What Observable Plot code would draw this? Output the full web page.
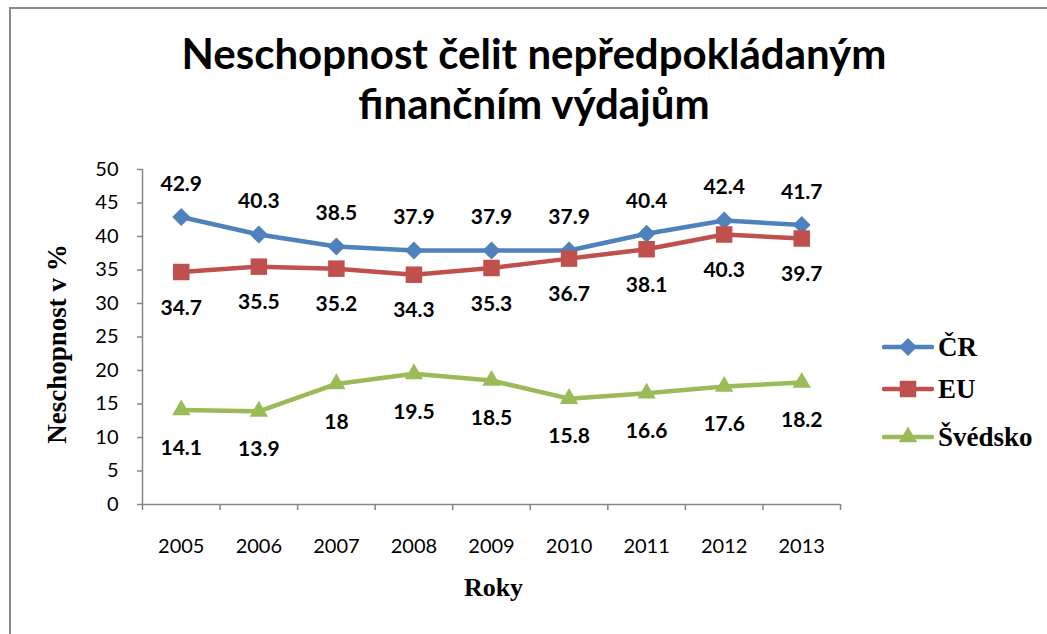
<!DOCTYPE html>
<html>
<head>
<meta charset="utf-8">
<script src="https://cdn.jsdelivr.net/npm/d3@7"></script>
<script src="https://cdn.jsdelivr.net/npm/@observablehq/plot@0.6"></script>
<style>
  body { margin: 0; background: #fff; }
  #wrap { position: relative; width: 1047px; height: 634px; overflow: hidden; background: #fff; }
  #frame { position: absolute; left: 9px; top: 7px; width: 1200px; height: 800px;
           border-left: 2px solid #8c8c8c; border-top: 2px solid #8c8c8c; }
  #title { position: absolute; left: 21px; top: 0; width: 1026px; height: 150px; box-sizing: border-box;
           padding-top: 28px; text-align: center; font-family: Lato, sans-serif; font-weight: bold;
           font-size: 42px; line-height: 50px; color: #000; }
  #chart { position: absolute; left: 0; top: 150px; }
  #legend { position: absolute; left: 882px; top: 0; font-family: "Liberation Serif", serif;
            font-weight: bold; font-size: 27px; color: #000; }
  .item { position: absolute; left: 0; display: flex; align-items: center; white-space: nowrap; height: 30px; }
  .item svg { margin-right: 4px; }
</style>
</head>
<body>
<div id="wrap">
  <div id="frame"></div>
  <div id="title">Neschopnost čelit nepředpokládaným<br>finančním výdajům</div>
  <div id="chart"></div>
  <div id="legend"></div>
</div>
<script>
// ---- data ----
const years = [2005, 2006, 2007, 2008, 2009, 2010, 2011, 2012, 2013];
const seriesNames = ["ČR", "EU", "Švédsko"];
const crValues = [42.9, 40.3, 38.5, 37.9, 37.9, 37.9, 40.4, 42.4, 41.7];
const euValues = [34.7, 35.5, 35.2, 34.3, 35.3, 36.7, 38.1, 40.3, 39.7];
const seValues = [14.1, 13.9, 18, 19.5, 18.5, 15.8, 16.6, 17.6, 18.2];
const yTicks = [0, 5, 10, 15, 20, 25, 30, 35, 40, 45, 50];

// ---- styles ----
const colors = {"ČR": "#4F81BD", "EU": "#C0504D", "Švédsko": "#9BBB59"};
const symbols = {"ČR": "diamond2", "EU": "square", "Švédsko": "triangle"};
const radii = {"ČR": 8.1, "EU": 9.3, "Švédsko": 6.8};
const labelDy = {"ČR": -33, "EU": 36, "Švédsko": 38};
const axisGray = "#868686";

const valuesBySeries = {"ČR": crValues, "EU": euValues, "Švédsko": seValues};
const rows = seriesNames.flatMap(s => years.map((y, i) => ({series: s, year: y, value: valuesBySeries[s][i]})));
const boundaries = d3.range(years[0] - 0.5, years[years.length - 1] + 1, 1);

const labelFont = "Lato, sans-serif";

const marks = [
  Plot.ruleX([years[0] - 0.5], {stroke: axisGray, strokeWidth: 1.5}),
  Plot.ruleY([0], {stroke: axisGray, strokeWidth: 1.5}),
  Plot.axisY({ticks: yTicks, tickSize: 5, tickPadding: 19, fontSize: 20, fontFamily: labelFont,
              stroke: axisGray, fill: "#000", strokeWidth: 1.5, label: null, tickFormat: d => String(d)}),
  Plot.axisX({ticks: boundaries, tickSize: 6, stroke: axisGray, strokeWidth: 1.5, tickFormat: () => "", label: null}),
  Plot.axisX({ticks: years, tickSize: 0, tickPadding: 34, fontSize: 20, fontFamily: labelFont,
              fill: "#000", tickFormat: d => String(d), label: null}),
  Plot.line(rows, {x: "year", y: "value", z: "series", stroke: d => colors[d.series], strokeWidth: 4.5,
                   strokeLinejoin: "round", strokeLinecap: "round"})
];
for (const s of seriesNames) {
  const data = rows.filter(d => d.series === s);
  marks.push(Plot.dot(data, {x: "year", y: "value", symbol: symbols[s], r: radii[s], fill: colors[s], stroke: "none"}));
  marks.push(Plot.text(data, {x: "year", y: "value", text: d => String(d.value), dy: labelDy[s],
                              fontSize: 21, fontWeight: "bold", fontFamily: labelFont, fill: "#000"}));
}
marks.push(Plot.text(["Neschopnost v %"], {frameAnchor: "left", textAnchor: "middle", dx: -85, dy: 7, rotate: -90,
  fontFamily: "Liberation Serif", fontWeight: "bold", fontSize: 27, fill: "#000"}));
marks.push(Plot.text(["Roky"], {frameAnchor: "bottom", dy: 91, dx: 2,
  fontFamily: "Liberation Serif", fontWeight: "bold", fontSize: 26, fill: "#000"}));

const chart = Plot.plot({
  width: 1047,
  height: 484,
  marginTop: 19,
  marginBottom: 130,
  marginLeft: 142,
  marginRight: 207,
  x: {type: "linear", domain: [years[0] - 0.5, years[years.length - 1] + 0.5]},
  y: {domain: [0, 50]},
  style: {background: "transparent", overflow: "visible"},
  marks
});
document.getElementById("chart").appendChild(chart);

// ---- legend ----
const legend = document.getElementById("legend");
const legendY = [347, 389, 437];
seriesNames.forEach((s, i) => {
  const item = document.createElement("div");
  item.className = "item";
  item.style.top = (legendY[i] - 15) + "px";
  const svg = d3.create("svg").attr("width", 52).attr("height", 30);
  svg.append("line").attr("x1", 2).attr("x2", 50).attr("y1", 15).attr("y2", 15)
    .attr("stroke", colors[s]).attr("stroke-width", 4.5).attr("stroke-linecap", "round");
  const typ = {diamond2: d3.symbolDiamond2, square: d3.symbolSquare, triangle: d3.symbolTriangle}[symbols[s]];
  svg.append("path").attr("transform", "translate(26,15)")
    .attr("d", d3.symbol(typ, radii[s] * radii[s] * Math.PI)()).attr("fill", colors[s]);
  item.appendChild(svg.node());
  const t = document.createElement("span");
  t.textContent = s;
  item.appendChild(t);
  legend.appendChild(item);
});
</script>
</body>
</html>
